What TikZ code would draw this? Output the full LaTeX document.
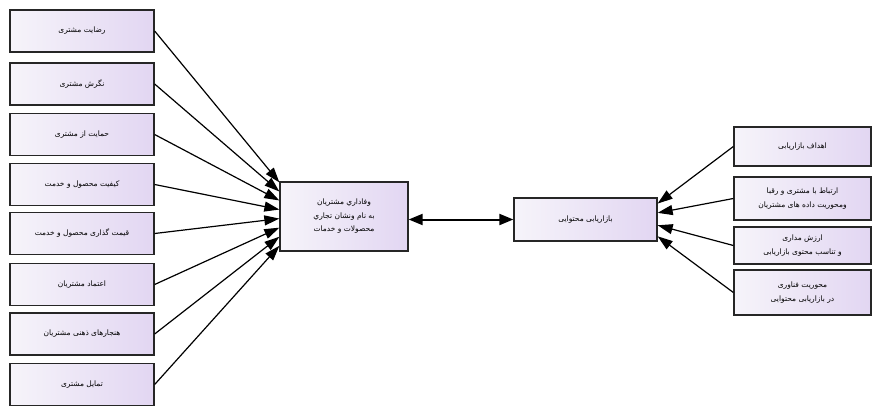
\documentclass[tikz,border=0pt]{standalone}
\usepackage{fontspec}
\newfontfamily\fa[Script=Arabic]{DejaVu Sans}
\TeXXeTstate=1
\usetikzlibrary{calc,arrows.meta}
\newcommand{\R}[1]{\beginR #1\endR}
\begin{document}
\begin{tikzpicture}[x=1pt,y=-1pt,
  box/.style={draw=black!85, line width=1.3pt, left color={rgb,255:red,246;green,244;blue,250}, right color={rgb,255:red,226;green,214;blue,242},
     align=center, inner sep=2pt, font=\fa\fontsize{7.5}{13.5}\selectfont},
  lbox/.style={box, minimum width=144pt, minimum height=42pt},
  rbox/.style={box, minimum width=137pt},
  arr/.style={line width=1.2pt, -{Triangle[length=15pt,width=10pt]}},
  darr/.style={line width=2pt, {Triangle[length=14pt,width=11pt]}-{Triangle[length=14pt,width=11pt]}}]
\useasboundingbox (0,0) rectangle (874,406);
\fill[white] (0,0) rectangle (874,406);
% left boxes
\node[lbox] (l1) at (82,31)  {\R{رضایت مشتری}};
\node[lbox] (l2) at (82,84)  {\R{نگرش مشتری}};
\node[lbox] (l3) at (82,134.5) {\R{حمایت از  مشتری}};
\node[lbox] (l4) at (82,184.5) {\R{کیفیت محصول و خدمت}};
\node[lbox] (l5) at (82,233.5) {\R{قیمت گذاری محصول و خدمت}};
\node[lbox] (l6) at (82,284.5) {\R{اعتماد مشتریان}};
\node[lbox] (l7) at (82,334) {\R{هنجارهای ذهنی مشتریان}};
\node[lbox] (l8) at (82,384.5) {\R{تمایل مشتری}};
% center
\node[box, minimum width=128pt, minimum height=69pt] (c) at (344,216.5)
  {\R{وفاداري مشتريان}\\ \R{به نام ونشان تجاري}\\ \R{محصولات و خدمات}};
\node[box, minimum width=143pt, minimum height=43pt] (m) at (585.5,219.5) {\R{بازاریابی محتوایی}};
% right boxes
\node[rbox, minimum height=39pt] (r1) at (802.5,146.5) {\R{اهداف بازاریابی}};
\node[rbox, minimum height=43pt] (r2) at (802.5,198.5) {\R{ارتباط با مشتری و رقبا}\\ \R{ومحوریت  داده های مشتریان}};
\node[rbox, minimum height=37pt] (r3) at (802.5,245.5) {\R{ارزش مداری}\\ \R{و تناسب محتوی بازاریابی}};
\node[rbox, minimum height=45pt] (r4) at (802.5,292.5) {\R{محوریت فناوری}\\ \R{در بازاریابی محتوایی}};
% arrows left
\foreach \i/\f in {1/0.015,2/0.144,3/0.272,4/0.401,5/0.53,6/0.659,7/0.788,8/0.917}
  \draw[arr] (l\i.east) -- ($(c.north west)!\f!(c.south west)$);
% arrows right
\foreach \i/\f in {1/0.14,2/0.35,3/0.63,4/0.88}
  \draw[arr] (r\i.west) -- ($(m.north east)!\f!(m.south east)$);
\draw[darr] (c.east |- m.west) -- (m.west);
\end{tikzpicture}
\end{document}
